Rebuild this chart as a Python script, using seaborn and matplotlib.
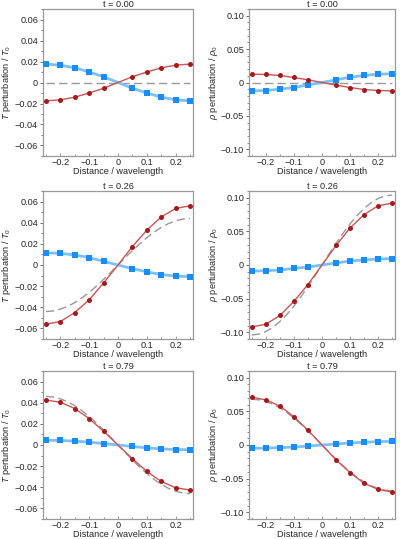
import numpy as np
import pandas as pd
import matplotlib
matplotlib.use('Agg')
from matplotlib import pyplot as plt
from matplotlib.ticker import MultipleLocator, FuncFormatter
import seaborn as sns

# sample positions (distance / wavelength)
x = [-0.25, -0.2, -0.15, -0.1, -0.05, 0.0, 0.05, 0.1, 0.15, 0.2, 0.25]
# finer positions for the analytic (dashed) curve
xd = [-0.25, -0.225, -0.2, -0.175, -0.15, -0.125, -0.1, -0.075, -0.05, -0.025, 0.0,
      0.025, 0.05, 0.075, 0.1, 0.125, 0.15, 0.175, 0.2, 0.225, 0.25]

times = ['0.00', '0.26', '0.79']

# temperature perturbation: red = simulation A, blue = simulation B, dashed = analytic
T_red_0 = [-0.0175, -0.0165, -0.014, -0.010, -0.0055, 0.0, 0.0055, 0.010, 0.014, 0.0165, 0.0175]
T_blue_0 = [0.0175, 0.0165, 0.014, 0.010, 0.0055, 0.0, -0.0055, -0.010, -0.014, -0.0165, -0.0175]
T_dash_0 = [0.0] * 21

T_red_1 = [-0.056, -0.0535, -0.045, -0.033, -0.017, 0.0, 0.0175, 0.033, 0.0455, 0.0535, 0.056]
T_blue_1 = [0.0115, 0.011, 0.0095, 0.007, 0.0035, 0.0, -0.0035, -0.0065, -0.009, -0.0105, -0.011]
T_dash_1 = [-0.044, -0.0435, -0.0418, -0.0392, -0.0356, -0.0311, -0.0259, -0.0200, -0.0136, -0.0069, 0.0,
            0.0069, 0.0136, 0.0200, 0.0259, 0.0311, 0.0356, 0.0392, 0.0418, 0.0435, 0.044]

T_red_2 = [0.0425, 0.0405, 0.0345, 0.025, 0.013, 0.0, -0.013, -0.025, -0.0345, -0.0405, -0.0425]
T_blue_2 = [0.0045, 0.0043, 0.0037, 0.0027, 0.0014, 0.0, -0.0014, -0.0027, -0.0037, -0.0043, -0.0045]
T_dash_2 = [0.046, 0.0454, 0.0437, 0.041, 0.0372, 0.0325, 0.027, 0.0209, 0.0142, 0.0072, 0.0,
            -0.0072, -0.0142, -0.0209, -0.027, -0.0325, -0.0372, -0.041, -0.0437, -0.0454, -0.046]

# density perturbation
R_red_0 = [0.0125, 0.012, 0.0105, 0.0075, 0.004, 0.0, -0.004, -0.0075, -0.0105, -0.012, -0.0125]
R_blue_0 = [-0.0125, -0.012, -0.010, -0.0075, -0.0035, 0.0, 0.004, 0.008, 0.0105, 0.0125, 0.013]
R_dash_0 = [0.0] * 21

R_red_1 = [-0.092, -0.088, -0.075, -0.054, -0.029, 0.0, 0.029, 0.055, 0.075, 0.088, 0.092]
R_blue_1 = [-0.009, -0.0085, -0.0075, -0.005, -0.003, 0.0, 0.003, 0.006, 0.0075, 0.009, 0.0095]
R_dash_1 = [-0.104, -0.1027, -0.0989, -0.0927, -0.0841, -0.0735, -0.0611, -0.0472, -0.0321, -0.0163, 0.0,
            0.0163, 0.0321, 0.0472, 0.0611, 0.0735, 0.0841, 0.0927, 0.0989, 0.1027, 0.104]

R_red_2 = [0.071, 0.067, 0.058, 0.042, 0.022, 0.0, -0.022, -0.041, -0.057, -0.066, -0.070]
R_blue_2 = [-0.005, -0.0045, -0.004, -0.003, -0.0015, 0.0, 0.0015, 0.003, 0.004, 0.005, 0.0055]
R_dash_2 = [0.068, 0.0672, 0.0647, 0.0606, 0.055, 0.0481, 0.04, 0.0309, 0.021, 0.0106, 0.0,
            -0.0106, -0.021, -0.0309, -0.04, -0.0481, -0.055, -0.0606, -0.0647, -0.0672, -0.068]

T_red = [T_red_0, T_red_1, T_red_2]
T_blue = [T_blue_0, T_blue_1, T_blue_2]
T_dash = [T_dash_0, T_dash_1, T_dash_2]
R_red = [R_red_0, R_red_1, R_red_2]
R_blue = [R_blue_0, R_blue_1, R_blue_2]
R_dash = [R_dash_0, R_dash_1, R_dash_2]

sns.set_style('ticks')
plt.rcParams['font.family'] = ['Liberation Sans', 'DejaVu Sans']
plt.rcParams['mathtext.fontset'] = 'custom'
plt.rcParams['mathtext.it'] = 'Liberation Sans:italic'
plt.rcParams['mathtext.rm'] = 'Liberation Sans'
fs = 6.6

red_line = '#cc5555'
red_mark = '#a81818'
blue_line = '#7cc0ff'
blue_mark = '#1a8cff'

fig = plt.figure(figsize=(4.0, 5.39), dpi=100)
W, H = 400.0, 539.0
cols = [(43, 193), (249, 395)]
rows = [(9, 156), (191, 339), (371, 519)]


def fmt(v, pos, dec):
    if abs(v) < 1e-9:
        return '0'
    s = ('%.' + str(dec) + 'f') % abs(v)
    return ('\u2212' if v < 0 else '') + s


def draw(ax, yr, yb, yd, ylim, major, minor, dec, ylabel, title):
    mask = [abs(v) > 1e-9 for v in x]
    df = pd.DataFrame({'x': x, 'red': yr, 'blue': yb})
    dd = pd.DataFrame({'x': xd, 'y': yd})
    sns.lineplot(data=dd, x='x', y='y', ax=ax, color='#999999', lw=1.0,
                 linestyle=(0, (6, 3)), zorder=1)
    sns.lineplot(data=df, x='x', y='blue', ax=ax, color=blue_line, lw=2.0, zorder=2)
    sns.lineplot(data=df, x='x', y='red', ax=ax, color=red_line, lw=1.0, zorder=3)
    dm = df[mask]
    sns.scatterplot(data=dm, x='x', y='blue', ax=ax, color=blue_mark, marker='s',
                    s=14, linewidth=0, zorder=4)
    sns.scatterplot(data=dm, x='x', y='red', ax=ax, color=red_mark, marker='o',
                    s=13, linewidth=0, zorder=5)
    ax.set_xlim(-0.26, 0.26)
    ax.set_ylim(*ylim)
    ax.xaxis.set_major_locator(MultipleLocator(0.1))
    ax.xaxis.set_minor_locator(MultipleLocator(0.05))
    ax.yaxis.set_major_locator(MultipleLocator(major))
    ax.yaxis.set_minor_locator(MultipleLocator(minor))
    ax.xaxis.set_major_formatter(FuncFormatter(lambda v, p: fmt(v, p, 1)))
    ax.yaxis.set_major_formatter(FuncFormatter(lambda v, p: fmt(v, p, dec)))
    ax.tick_params(axis='y', labelsize=fs, length=2.5, width=0.6, color='#555555', pad=1)
    ax.tick_params(axis='y', which='minor', length=1.3, width=0.5, color='#555555')
    ax.tick_params(axis='x', which='both', direction='in', labelsize=fs, length=2,
                   width=0.5, color='#777777', pad=1.5)
    ax.tick_params(axis='x', which='minor', length=1.2)
    for sp in ax.spines.values():
        sp.set_color('#999999')
        sp.set_linewidth(0.9)
    ax.set_xlabel('Distance / wavelength', fontsize=fs, labelpad=0)
    ax.set_ylabel(ylabel, fontsize=fs, labelpad=1)
    ax.set_title('t = ' + title, fontsize=fs, pad=1.5)


for i in range(3):
    y0, y1 = rows[i]
    for j in range(2):
        x0, x1 = cols[j]
        ax = fig.add_axes([x0 / W, 1 - y1 / H, (x1 - x0) / W, (y1 - y0) / H])
        if j == 0:
            draw(ax, T_red[i], T_blue[i], T_dash[i], (-0.07, 0.07), 0.02, 0.01, 2,
                 r'$T$ perturbation / $T_0$', times[i])
        else:
            draw(ax, R_red[i], R_blue[i], R_dash[i], (-0.11, 0.11), 0.05, 0.01, 2,
                 r'$\rho$ perturbation / $\rho_0$', times[i])

fig.savefig('out.png', dpi=100)
